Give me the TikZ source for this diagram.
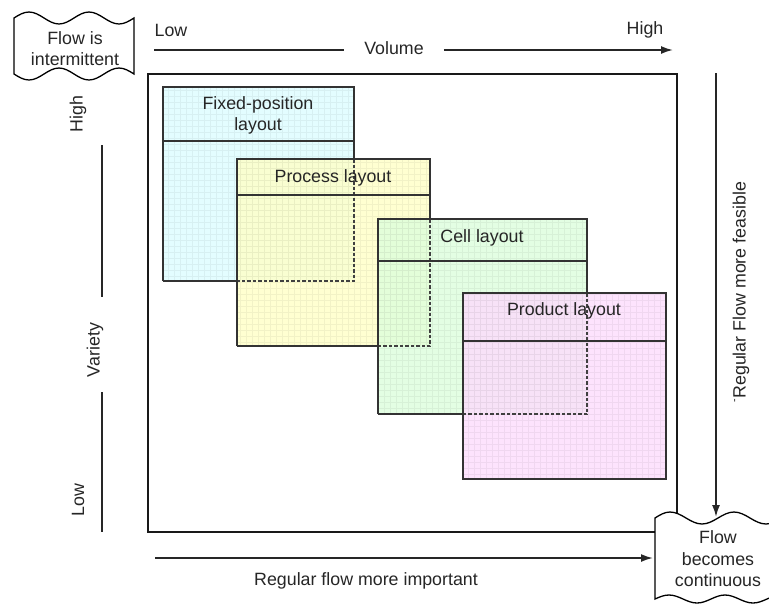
\documentclass[tikz,border=0pt]{standalone}
\usepackage{fontspec}
\setmainfont{Liberation Sans}
\usetikzlibrary{arrows.meta}

\definecolor{fixedfill}{HTML}{DCFDFF}
\definecolor{processfill}{HTML}{FFFFC6}
\definecolor{cellfill}{HTML}{DDFEDC}
\definecolor{productfill}{HTML}{FDDCFD}

\begin{document}
\begin{tikzpicture}[x=1pt,y=-1pt,
  lbl/.style={font=\fontsize{17.8}{21}\selectfont, text=black!85, align=center, inner sep=0pt},
  frame/.style={line width=2.4pt, draw=black!90},
  edge/.style={line width=1.1pt, draw=black!80},
  hidden/.style={line width=1.2pt, draw=black!75, dash pattern=on 3.5pt off 2pt},
  axis/.style={line width=1.8pt, draw=black!85},
  arr/.style={axis, -{Latex[length=12pt,width=8pt]}},
  wave/.style={line width=1.3pt, draw=black, fill=white},
  gridlines/.style={draw=black, draw opacity=0.05, line width=0.4pt, step=6pt},
  boxfill/.style={fill=#1, fill opacity=0.8},
]
\useasboundingbox (0,0) rectangle (769,603);
\fill[white] (0,0) rectangle (769,603);
\clip (0,0) rectangle (769,603);

% outer frame
\draw[frame] (148,74) rectangle (677,532);

% layout boxes: fills with a faint grid texture
\fill[boxfill=fixedfill] (163,87) rectangle (354,281);
\begin{scope}\clip (163,87) rectangle (354,281);
  \draw[gridlines] (163,281) grid (354,87);\end{scope}
\fill[boxfill=processfill] (237,159) rectangle (430,346);
\begin{scope}\clip (237,159) rectangle (430,346);
  \draw[gridlines] (237,346) grid (430,159);\end{scope}
\fill[boxfill=cellfill] (378,219) rectangle (587,414);
\begin{scope}\clip (378,219) rectangle (587,414);
  \draw[gridlines] (378,414) grid (587,219);\end{scope}
\fill[boxfill=productfill] (463,293) rectangle (666,479);
\begin{scope}\clip (463,293) rectangle (666,479);
  \draw[gridlines] (463,479) grid (666,293);\end{scope}

% fixed-position outline
\draw[edge] (163,281) -- (163,87) -- (354,87) -- (354,159);
\draw[edge] (163,141) -- (354,141);
\draw[edge] (163,281) -- (237,281);
\draw[hidden] (354,159) -- (354,281) -- (237,281);
% process outline
\draw[edge] (237,346) -- (237,159) -- (430,159) -- (430,219);
\draw[edge] (237,195) -- (430,195);
\draw[edge] (237,346) -- (378,346);
\draw[hidden] (430,219) -- (430,346) -- (378,346);
% cell outline
\draw[edge] (378,414) -- (378,219) -- (587,219) -- (587,293);
\draw[edge] (378,261) -- (587,261);
\draw[edge] (378,414) -- (463,414);
\draw[hidden] (587,293) -- (587,414) -- (463,414);
% product outline
\draw[edge] (463,293) rectangle (666,479);
\draw[edge] (463,341) -- (666,341);

% box titles
\node[lbl] (tfixed) at (258,115) {Fixed-position\\layout};
\node[lbl] (tprocess) at (333,178) {Process layout};
\node[lbl] (tcell) at (482,238) {Cell layout};
\node[lbl] (tproduct) at (564,311) {Product layout};

% volume axis
\node[lbl] (vlow) at (171,30) {Low};
\node[lbl] (vhigh) at (645,30) {High};
\node[lbl] (vol) at (394,48) {Volume};
\coordinate (vstart) at (154,50);
\coordinate (vend) at (673,50);
\draw[axis] (vstart) -- ([xshift=-20pt]vol.west |- vstart);
\draw[arr] ([xshift=20pt]vol.east |- vend) -- (vend);

% variety axis
\node[lbl, rotate=90] (varhigh) at (78,114) {High};
\node[lbl, rotate=90] (variety) at (95,350) {Variety};
\node[lbl, rotate=90] (varlow) at (78,500) {Low};
\coordinate (va) at (102,145);
\coordinate (vb) at (102,297);
\coordinate (vc) at (102,392);
\coordinate (vd) at (102,532);
\draw[axis] (va) -- (vb);
\draw[axis] (vc) -- (vd);

% flow is intermittent
\draw[wave] (14,18) sin (29,12) cos (44,18) sin (59,24) cos (74,18) sin (89,12) cos (104,18) sin (119,24) cos (134,18)
  -- (134,74) sin (119,68) cos (104,74) sin (89,80) cos (74,74) sin (59,68) cos (44,74) sin (29,80) cos (14,74) -- cycle;
\node[lbl] (intermittent) at (75,49) {Flow is\\intermittent};

% flow becomes continuous
\draw[wave] (655,518) sin (670,512) cos (686,518) sin (702,524) cos (718,518) sin (734,512) cos (750,518) sin (766,524) cos (782,518)
  -- (781,595) cos (767,599) sin (753,603) cos (739,599) sin (725,595) cos (711,599) sin (697,603) cos (683,599) sin (669,595) cos (655,599) -- cycle;
\node[lbl, font=\fontsize{17.8}{21.5}\selectfont] (continuous) at (718,559) {Flow\\becomes\\continuous};

% regular flow arrows
\coordinate (rtop) at (716,73);
\coordinate (rtip) at (716,517);
\draw[arr] (rtop) -- (rtip);
\node[lbl, rotate=90] (feasible) at (741,292) {\raisebox{0.45em}{\scalebox{0.6}{-}}Regular Flow more feasible};

\coordinate (bstart) at (155,558);
\coordinate (btip) at (653,558);
\draw[arr] (bstart) -- (btip);
\node[lbl] (important) at (366,581) {Regular flow more important};
\end{tikzpicture}
\end{document}
